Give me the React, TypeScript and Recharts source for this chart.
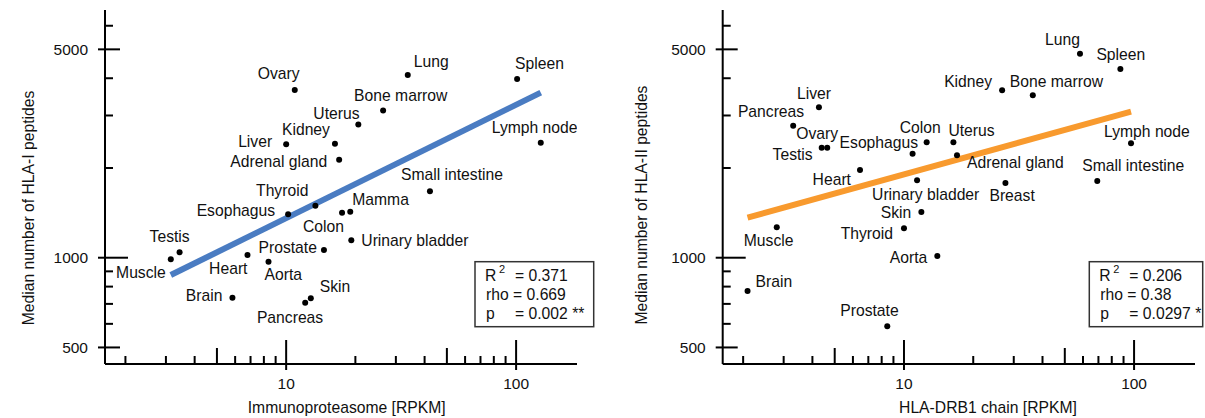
import React from 'react';
import { ScatterChart, Scatter, XAxis, YAxis } from 'recharts';

// panel A: immunoproteasome expression vs HLA-I peptides
const tissuesI = [
  'Ovary', 'Lung', 'Spleen', 'Bone marrow', 'Uterus', 'Kidney', 'Liver', 'Adrenal gland',
  'Lymph node', 'Small intestine', 'Thyroid', 'Esophagus', 'Mamma', 'Colon', 'Urinary bladder',
  'Prostate', 'Testis', 'Muscle', 'Heart', 'Aorta', 'Brain', 'Skin', 'Pancreas',
];
const immunoRpkm = [10.9, 33.8, 101, 26.4, 20.6, 16.3, 10.0, 17.0, 128, 42.2, 13.4, 10.2, 19.0, 17.5, 19.2, 14.6, 3.44, 3.15, 6.79, 8.38, 5.84, 12.8, 12.1];
const hlaIPeptides = [3650, 4100, 3980, 3120, 2800, 2410, 2400, 2130, 2430, 1670, 1495, 1400, 1427, 1416, 1144, 1061, 1043, 988, 1021, 970, 734, 731, 706];
const fitIX = [3.15, 128];
const fitIY = [875, 3580];
const statsI = ['0.371', '0.669', '0.002 **'];

// panel B: HLA-DRB1 expression vs HLA-II peptides
const tissuesII = [
  'Liver', 'Pancreas', 'Ovary', 'Testis', 'Esophagus', 'Heart', 'Muscle', 'Thyroid', 'Brain',
  'Prostate', 'Aorta', 'Skin', 'Urinary bladder', 'Colon', 'Uterus', 'Adrenal gland', 'Breast',
  'Small intestine', 'Lymph node', 'Kidney', 'Bone marrow', 'Lung', 'Spleen',
];
const drb1Rpkm = [4.27, 3.30, 4.64, 4.39, 10.9, 6.44, 2.80, 10.0, 2.09, 8.46, 13.96, 11.9, 11.4, 12.55, 16.4, 17.0, 27.6, 69.2, 97.0, 26.7, 36.3, 58.2, 87.2];
const hlaIIPeptides = [3200, 2770, 2340, 2340, 2234, 1970, 1265, 1255, 773, 589, 1013, 1423, 1818, 2439, 2439, 2206, 1781, 1809, 2420, 3645, 3507, 4837, 4297];
const fitIIX = [2.09, 97];
const fitIIY = [1362, 3090];
const statsII = ['0.206', '0.38', '0.0297 *'];

const xTicks = [2, 3, 4, 5, 6, 7, 8, 9, 10, 20, 30, 40, 50, 60, 70, 80, 90, 100];
const yTicks = [500, 600, 700, 800, 900, 1000, 2000, 3000, 4000, 5000, 6000];
const xTickLabels = [10, 100];
const yTickLabels = [500, 1000, 5000];

// label placement next to each dot: [dx, dy, anchor]
const placeI: Record<string, [number, number, string]> = {
  'Ovary': [-37, -17, 'start'], 'Lung': [6, -14, 'start'], 'Spleen': [-2, -15, 'start'],
  'Bone marrow': [-29, -15, 'start'], 'Uterus': [-45, -11, 'start'], 'Kidney': [-5, -14, 'end'],
  'Liver': [-14, -3, 'end'], 'Adrenal gland': [-12, 2, 'end'], 'Lymph node': [-49, -15, 'start'],
  'Small intestine': [-29, -17, 'start'], 'Thyroid': [-7, -15, 'end'], 'Esophagus': [-13, -4, 'end'],
  'Mamma': [2, -12, 'start'], 'Colon': [2, 14, 'end'], 'Urinary bladder': [10, 0, 'start'],
  'Prostate': [-7, -3, 'end'], 'Testis': [-30, -16, 'start'], 'Muscle': [-5, 13, 'end'],
  'Heart': [0, 13, 'end'], 'Aorta': [-4, 13, 'start'], 'Brain': [-10, -2, 'end'],
  'Skin': [9, -12, 'start'], 'Pancreas': [18, 15, 'end'],
};
const placeII: Record<string, [number, number, string]> = {
  'Liver': [-22, -14, 'start'], 'Pancreas': [11, -14, 'end'], 'Ovary': [-31, -14, 'start'],
  'Testis': [-9, 7, 'end'], 'Esophagus': [-73, -11, 'start'], 'Heart': [-9, 10, 'end'],
  'Muscle': [-33, 13, 'start'], 'Thyroid': [-11, 5, 'end'], 'Brain': [8, -10, 'start'],
  'Prostate': [-47, -16, 'start'], 'Aorta': [-10, 1, 'end'], 'Skin': [-10, 0, 'end'],
  'Urinary bladder': [-45, 14, 'start'], 'Colon': [-27, -15, 'start'], 'Uterus': [-5, -12, 'start'],
  'Adrenal gland': [10, 7, 'start'], 'Breast': [-16, 13, 'start'], 'Small intestine': [-15, -15, 'start'],
  'Lymph node': [-27, -12, 'start'], 'Kidney': [-10, -9, 'end'], 'Bone marrow': [-23, -14, 'start'],
  'Lung': [0, -14, 'end'], 'Spleen': [-24, -14, 'start'],
};

const FONT = "'Liberation Sans', Arial, Helvetica, sans-serif";
const X_DOMAIN = [1.63, 184];
const Y_DOMAIN = [440, 6776];

const YTick = ({ x, y, payload }: any) => {
  const v = payload.value;
  const major = yTickLabels.includes(v);
  const x2 = v === 1000 ? x + 23 : major ? x + 15 : x + 8;
  return (
    <g>
      <line x1={major ? x - 7 : x} x2={x2} y1={y} y2={y} stroke="#000" strokeWidth={2} />
      {major && (
        <text x={x - 17} y={y} textAnchor="end" dominantBaseline="central" fontSize={15.5} fontFamily={FONT} fill="#111">
          {v}
        </text>
      )}
    </g>
  );
};

const XTick = ({ x, y, payload }: any) => {
  const v = payload.value;
  const decade = xTickLabels.includes(v);
  const half = v === 5 || v === 50;
  return (
    <g>
      <line x1={x} x2={x} y1={decade ? y - 24 : half ? y - 16 : y - 8} y2={decade ? y + 6 : y} stroke="#000" strokeWidth={2} />
      {decade && (
        <text x={x} y={y + 19} textAnchor="middle" dominantBaseline="central" fontSize={15.5} fontFamily={FONT} fill="#111">
          {v}
        </text>
      )}
    </g>
  );
};

const makeDot = (place: Record<string, [number, number, string]>) => (props: any) => {
  const { cx, cy, payload } = props;
  const [dx, dy, anchor] = place[payload.name] || [6, 0, 'start'];
  return (
    <g>
      <circle cx={cx} cy={cy} r={3} fill="#000" />
      <text x={cx + dx} y={cy + dy} textAnchor={anchor} dominantBaseline="central" fontSize={15.7} fontFamily={FONT} fill="#111">
        {payload.name}
      </text>
    </g>
  );
};

const NoShape = () => <g />;

const toRows = (names: string[], xs: number[], ys: number[]) => names.map((name, i) => ({ name, x: xs[i], y: ys[i] }));
const toFit = (xs: number[], ys: number[]) => xs.map((x, i) => ({ x, y: ys[i] }));

function Panel({ width, margin, points, fit, color, place }: any) {
  return (
    <ScatterChart width={width} height={418} margin={margin}>
      <XAxis dataKey="x" type="number" scale="log" domain={X_DOMAIN} allowDataOverflow ticks={xTicks} interval={0}
        tickSize={0} tickMargin={0} tick={<XTick />} tickLine={false} height={30}
        axisLine={{ stroke: '#000', strokeWidth: 2 }} />
      <YAxis dataKey="y" type="number" scale="log" domain={Y_DOMAIN} allowDataOverflow ticks={yTicks} interval={0}
        tickSize={0} tickMargin={0} tick={<YTick />} tickLine={false} width={60}
        axisLine={{ stroke: '#000', strokeWidth: 2 }} />
      <Scatter data={fit} line={{ stroke: color, strokeWidth: 6 }} shape={NoShape} isAnimationActive={false} />
      <Scatter data={points} shape={makeDot(place)} isAnimationActive={false} />
    </ScatterChart>
  );
}

function StatsBox({ x, width, values }: { x: number; width: number; values: string[] }) {
  const t = { fontSize: 15.7, fontFamily: FONT, fill: '#111', dominantBaseline: 'central' as const };
  return (
    <g>
      <rect x={x} y={261.7} width={width} height={65} fill="#fff" stroke="#333" strokeWidth={1.5} />
      <text x={x + 10} y={275} {...t}>R</text>
      <text x={x + 24} y={268.5} {...t} fontSize={11}>2</text>
      <text x={x + 40} y={275} {...t}>= {values[0]}</text>
      <text x={x + 11} y={294.3} {...t}>rho = {values[1]}</text>
      <text x={x + 11} y={313.3} {...t}>p</text>
      <text x={x + 40} y={313.3} {...t}>= {values[2]}</text>
    </g>
  );
}

export default function App() {
  const title = { fontSize: 15.7, fontFamily: FONT, fill: '#111', textAnchor: 'middle' as const, dominantBaseline: 'central' as const };
  return (
    <div style={{ position: 'absolute', left: 0, top: 0, width: 1205, height: 418, background: '#fff', overflow: 'hidden' }}>
      <div style={{ position: 'absolute', left: 0, top: 0 }}>
        <Panel width={600} margin={{ top: 10, right: 23, left: 45, bottom: 24 }}
          points={toRows(tissuesI, immunoRpkm, hlaIPeptides)} fit={toFit(fitIX, fitIY)} color="#4a7cc2" place={placeI} />
      </div>
      <div style={{ position: 'absolute', left: 600, top: 0 }}>
        <Panel width={605} margin={{ top: 10, right: 10, left: 62.7, bottom: 24 }}
          points={toRows(tissuesII, drb1Rpkm, hlaIIPeptides)} fit={toFit(fitIIX, fitIIY)} color="#f89a2e" place={placeII} />
      </div>
      <svg width={1205} height={418} style={{ position: 'absolute', left: 0, top: 0, pointerEvents: 'none' }}>
        <text x={28} y={208} transform="rotate(-90 28 208)" {...title}>Median number of HLA-I peptides</text>
        <text x={641.7} y={205} transform="rotate(-90 641.7 205)" {...title}>Median number of HLA-II peptides</text>
        <text x={346.7} y={407} {...title}>Immunoproteasome [RPKM]</text>
        <text x={988} y={407} {...title}>HLA-DRB1 chain [RPKM]</text>
        <StatsBox x={475} width={118.7} values={statsI} />
        <StatsBox x={1089.3} width={113.4} values={statsII} />
      </svg>
    </div>
  );
}
